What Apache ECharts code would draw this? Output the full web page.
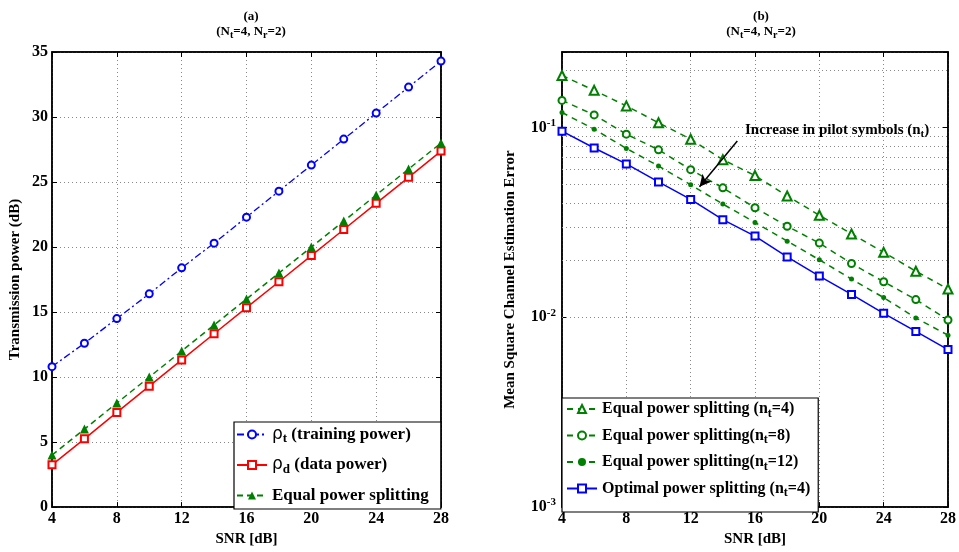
<!DOCTYPE html>
<html>
<head>
<meta charset="utf-8">
<script src="https://cdn.jsdelivr.net/npm/echarts@6/dist/echarts.min.js"></script>
<style>
html,body{margin:0;padding:0;background:#fff}
#main{width:959px;height:552px}
</style>
</head>
<body>
<div id="main"></div>
<script>
// SNR points (dB)
const snr = [4, 6, 8, 10, 12, 14, 16, 18, 20, 22, 24, 26, 28];

// (a) transmission power (dB)
const trainingPower = [10.8, 12.6, 14.5, 16.4, 18.4, 20.3, 22.3, 24.3, 26.3, 28.3, 30.3, 32.3, 34.3];
const dataPower = [3.25, 5.25, 7.28, 9.3, 11.32, 13.33, 15.34, 17.33, 19.34, 21.35, 23.36, 25.36, 27.38];
const equalPower = [4, 6, 8, 10, 12, 14, 16, 18, 20, 22, 24, 26, 28];

// (b) mean square channel estimation error
const mseEqual4 = [0.188, 0.157, 0.130, 0.106, 0.0868, 0.0677, 0.0558, 0.0436, 0.0345, 0.0275, 0.0220, 0.0175, 0.0141];
const mseEqual8 = [0.139, 0.1165, 0.0923, 0.0763, 0.0600, 0.0481, 0.0378, 0.0302, 0.0246, 0.0192, 0.0154, 0.0124, 0.00968];
const mseEqual12 = [0.120, 0.098, 0.0776, 0.0627, 0.0499, 0.0395, 0.0316, 0.0252, 0.0201, 0.0159, 0.0127, 0.00993, 0.00805];
const mseOptimal = [0.0957, 0.0780, 0.0643, 0.0517, 0.0418, 0.0327, 0.0268, 0.0208, 0.0165, 0.0132, 0.0105, 0.00843, 0.00676];

// minor log grid values
const minorLogGrid = [0.002, 0.003, 0.004, 0.005, 0.006, 0.007, 0.008, 0.009,
                      0.02, 0.03, 0.04, 0.05, 0.06, 0.07, 0.08, 0.09, 0.2];

const pair = arr => snr.map((x, i) => [x, arr[i]]);

const SERIF = 'Liberation Serif';
const GREEN = '#008000';
const gridLine = { show: true, lineStyle: { color: '#888', type: [1, 3], width: 1 } };
const tickFont = { fontFamily: SERIF, fontWeight: 'bold', fontSize: 16, color: '#000' };
const nameFont = { fontFamily: SERIF, fontWeight: 'bold', fontSize: 15, color: '#000' };

// rich text styles: n normal, g greek, s subscript
function richOf(size) {
    return {
        n: { fontFamily: SERIF, fontWeight: 'bold', fontSize: size, color: '#000' },
        g: { fontFamily: 'DejaVu Sans', fontSize: size, color: '#000' },
        s: { fontFamily: SERIF, fontWeight: 'bold', fontSize: Math.round(size * 0.75), color: '#000',
             padding: [Math.round(size * 0.55), 0, 0, 0] }
    };
}
const titleRich = {
    t: { fontFamily: SERIF, fontWeight: 'bold', fontSize: 13, color: '#000' },
    ts: { fontFamily: SERIF, fontWeight: 'bold', fontSize: 10, color: '#000', padding: [7, 0, 0, 0] }
};
const powRich = {
    b: { fontFamily: SERIF, fontWeight: 'bold', fontSize: 16, color: '#000' },
    p: { fontFamily: SERIF, fontWeight: 'bold', fontSize: 11, color: '#000', padding: [0, 0, 9, 0] }
};

const legendText = {
    'rho_t': '{g|ρ}{s|t}{n| (training power)}',
    'rho_d': '{g|ρ}{s|d}{n| (data power)}',
    'equal': '{n|Equal power splitting}',
    'eq4': '{n|Equal power splitting (n}{s|t}{n|=4)}',
    'eq8': '{n|Equal power splitting(n}{s|t}{n|=8)}',
    'eq12': '{n|Equal power splitting(n}{s|t}{n|=12)}',
    'opt': '{n|Optimal power splitting (n}{s|t}{n|=4)}'
};

function xAxisFor(gi, top) {
    return {
        type: 'value', gridIndex: gi, min: 4, max: 28, interval: 4,
        position: top ? 'top' : 'bottom',
        name: top ? '' : 'SNR [dB]', nameLocation: 'middle', nameGap: 22, nameTextStyle: nameFont,
        axisLine: { show: true, onZero: false, lineStyle: { color: '#000', width: 1.5 } },
        axisTick: { show: true, inside: true, length: 5, lineStyle: { color: '#000' } },
        axisLabel: { show: !top, ...tickFont, margin: 4 },
        splitLine: top ? { show: false } : gridLine
    };
}

let myChart = echarts.init(document.getElementById('main'));
myChart.setOption({
    backgroundColor: '#fff',
    animation: false,
    title: [
        { text: '{t|(a)}\n{t|(N}{ts|t}{t|=4, N}{ts|r}{t|=2)}', left: 246, top: 4, textAlign: 'center',
          textStyle: { rich: titleRich, lineHeight: 15 } },
        { text: '{t|(b)}\n{t|(N}{ts|t}{t|=4, N}{ts|r}{t|=2)}', left: 756, top: 4, textAlign: 'center',
          textStyle: { rich: titleRich, lineHeight: 15 } }
    ],
    grid: [
        { left: 52, top: 52, width: 389, height: 459, show: true, borderColor: '#000', borderWidth: 1.5 },
        { left: 562, top: 52, width: 388, height: 459, show: true, borderColor: '#000', borderWidth: 1.5 }
    ],
    xAxis: [xAxisFor(0, false), xAxisFor(0, true), xAxisFor(1, false), xAxisFor(1, true)],
    yAxis: [
        {
            type: 'value', gridIndex: 0, min: 0, max: 35, interval: 5,
            name: 'Transmission power (dB)', nameLocation: 'middle', nameGap: 29, nameTextStyle: nameFont,
            axisLine: { show: true, lineStyle: { color: '#000', width: 1.5 } },
            axisTick: { show: true, inside: true, length: 5, lineStyle: { color: '#000' } },
            axisLabel: { ...tickFont, margin: 4 },
            splitLine: gridLine
        },
        {
            type: 'value', gridIndex: 0, min: 0, max: 35, interval: 5, position: 'right',
            axisLine: { show: true, lineStyle: { color: '#000', width: 1.5 } },
            axisTick: { show: true, inside: true, length: 5, lineStyle: { color: '#000' } },
            axisLabel: { show: false }, splitLine: { show: false }
        },
        {
            type: 'log', logBase: 10, gridIndex: 1, min: 0.001, max: 0.25, interval: 1,
            name: 'Mean Square Channel Estimation Error', nameLocation: 'middle', nameGap: 44, nameTextStyle: nameFont,
            axisLine: { show: true, lineStyle: { color: '#000', width: 1.5 } },
            axisTick: { show: true, inside: true, length: 5, lineStyle: { color: '#000' } },
            axisLabel: {
                margin: 6,
                formatter: v => {
                    const l = Math.log10(v), e = Math.round(l);
                    if (Math.abs(l - e) > 1e-6) return '';
                    return '{b|10}{p|' + e + '}';
                },
                rich: powRich
            },
            splitLine: gridLine
        },
        {
            type: 'log', logBase: 10, gridIndex: 1, min: 0.001, max: 0.25, interval: 1, position: 'right',
            axisLine: { show: true, lineStyle: { color: '#000', width: 1.5 } },
            axisTick: { show: true, inside: true, length: 5, lineStyle: { color: '#000' } },
            axisLabel: { show: false }, splitLine: { show: false }
        }
    ],
    legend: [
        {
            data: ['rho_t', 'rho_d', 'equal'], orient: 'vertical', left: 234, top: 422,
            itemWidth: 30, itemHeight: 10, itemGap: 11, padding: [4, 12, 5, 2],
            borderColor: '#000', borderWidth: 1.2, backgroundColor: '#fff',
            formatter: name => legendText[name], textStyle: { rich: richOf(17) }
        },
        {
            data: ['eq4', 'eq8', 'eq12', 'opt'], orient: 'vertical', left: 562, top: 398,
            itemWidth: 30, itemHeight: 10, itemGap: 8, padding: [3, 8, 13, 4],
            borderColor: '#000', borderWidth: 1.2, backgroundColor: '#fff',
            formatter: name => legendText[name], textStyle: { rich: richOf(16) }
        }
    ],
    graphic: [
        {
            type: 'text', left: 745, top: 123, z: 10,
            style: { text: '{n|Increase in pilot symbols (n}{s|t}{n|)}', rich: richOf(15) }
        }
    ],
    series: [
        {
            name: 'rho_t', type: 'line', xAxisIndex: 0, yAxisIndex: 0, data: pair(trainingPower),
            symbol: 'emptyCircle', symbolSize: 7, color: '#0000ff',
            lineStyle: { color: '#0000ff', width: 1.3, type: [7, 3, 2, 3] },
            itemStyle: { color: '#0000ff', borderWidth: 1.5 }
        },
        {
            name: 'rho_d', type: 'line', xAxisIndex: 0, yAxisIndex: 0, data: pair(dataPower),
            symbol: 'emptyRect', symbolSize: 7, color: '#ff0000',
            lineStyle: { color: '#ff0000', width: 1.5 },
            itemStyle: { color: '#ff0000', borderWidth: 1.3 }
        },
        {
            name: 'equal', type: 'line', xAxisIndex: 0, yAxisIndex: 0, data: pair(equalPower),
            symbol: 'triangle', symbolSize: 9, color: GREEN,
            lineStyle: { color: GREEN, width: 1.5, type: [6, 4] },
            itemStyle: { color: GREEN }
        },
        {
            name: 'eq4', type: 'line', xAxisIndex: 2, yAxisIndex: 2, data: pair(mseEqual4),
            symbol: 'emptyTriangle', symbolSize: 9, color: GREEN,
            lineStyle: { color: GREEN, width: 1.5, type: [6, 5] },
            itemStyle: { color: GREEN, borderWidth: 1.6 }
        },
        {
            name: 'eq8', type: 'line', xAxisIndex: 2, yAxisIndex: 2, data: pair(mseEqual8),
            symbol: 'emptyCircle', symbolSize: 7, color: GREEN,
            lineStyle: { color: GREEN, width: 1.5, type: [6, 5] },
            itemStyle: { color: GREEN, borderWidth: 1.6 }
        },
        {
            name: 'eq12', type: 'line', xAxisIndex: 2, yAxisIndex: 2, data: pair(mseEqual12),
            symbol: 'circle', symbolSize: 5, color: GREEN,
            lineStyle: { color: GREEN, width: 1.5, type: [6, 5] },
            itemStyle: { color: GREEN }
        },
        {
            name: 'opt', type: 'line', xAxisIndex: 2, yAxisIndex: 2, data: pair(mseOptimal),
            symbol: 'emptyRect', symbolSize: 7, color: '#0000ff',
            lineStyle: { color: '#0000ff', width: 1.5 },
            itemStyle: { color: '#0000ff', borderWidth: 1.3 },
            markLine: {
                silent: true, symbol: 'none', label: { show: false }, z: 1,
                lineStyle: { color: '#888', type: [1, 3], width: 1 },
                data: minorLogGrid.map(v => ({ yAxis: v }))
            }
        },
        {
            name: 'arrow', type: 'line', xAxisIndex: 2, yAxisIndex: 2, data: [],
            markLine: {
                silent: true, symbol: ['none', 'arrow'], symbolSize: [9, 12], label: { show: false },
                lineStyle: { color: '#000', type: 'solid', width: 1.5 },
                data: [[{ coord: [14.9, 0.085] }, { coord: [12.55, 0.0487] }]]
            }
        }
    ]
});
</script>
</body>
</html>
